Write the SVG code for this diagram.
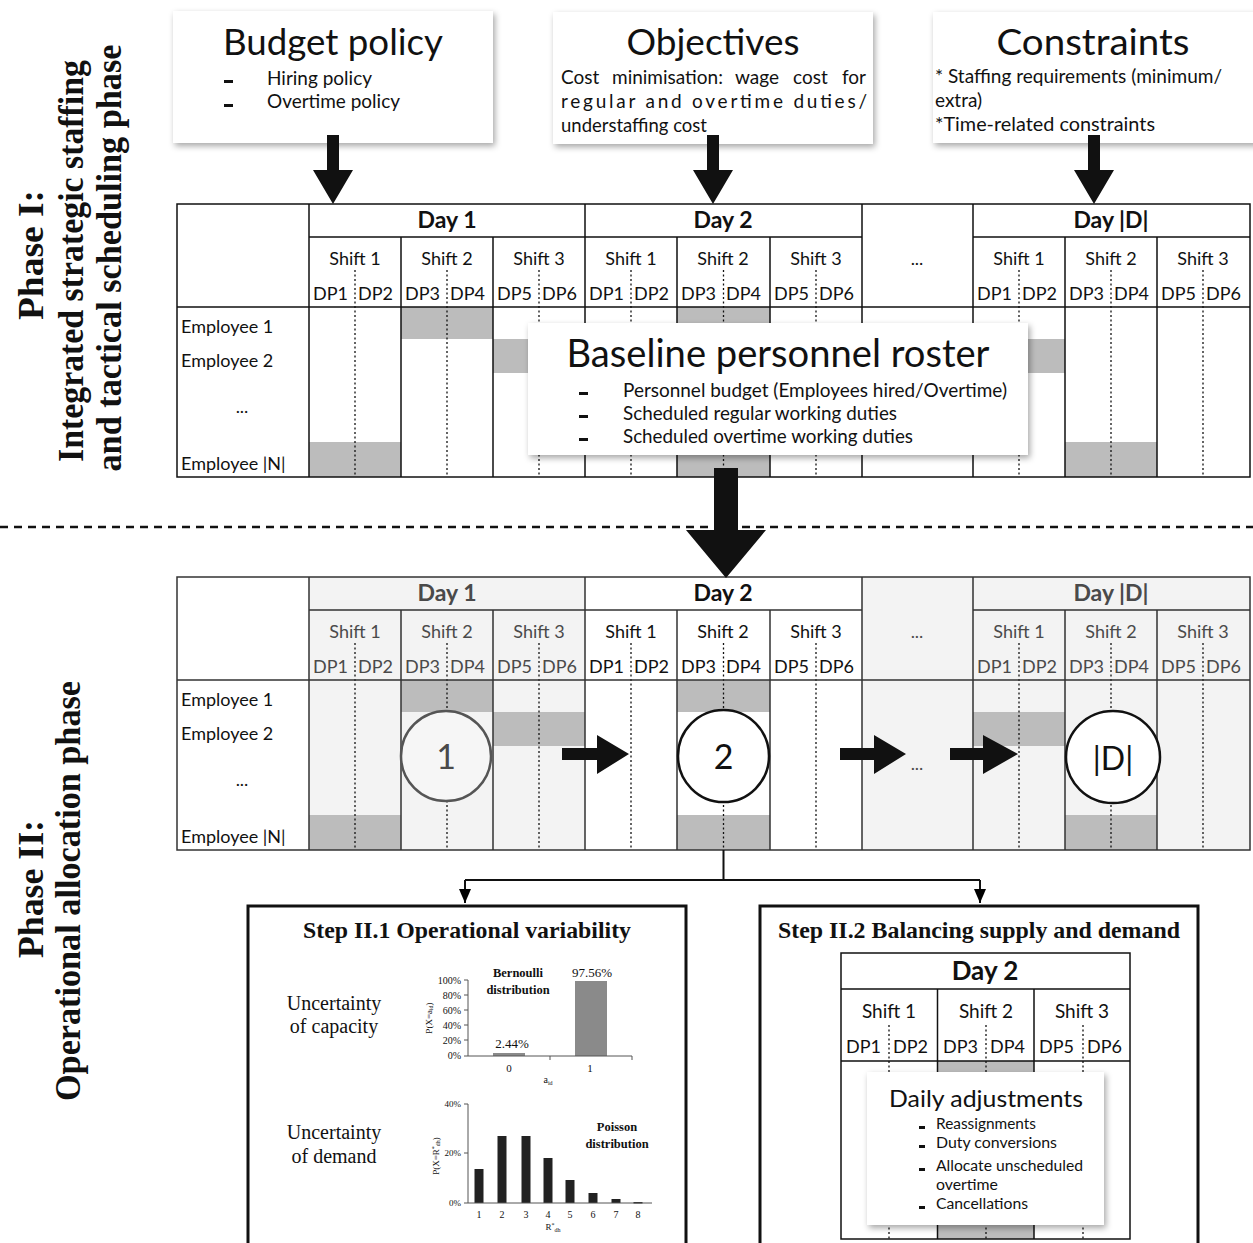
<svg xmlns="http://www.w3.org/2000/svg" width="1253" height="1243" viewBox="0 0 1253 1243">
<style>
.s{font-family:Lato,'Open Sans','Liberation Sans',sans-serif;fill:#111}
.ser{font-family:'Liberation Serif','Times New Roman',serif;fill:#111}
.b{font-weight:bold}
.m{text-anchor:middle}
.e{text-anchor:end}
.ln{stroke:#111;stroke-width:1.5;fill:none}
.ln2{stroke:#333;stroke-width:1.5;fill:none}
.dot{stroke:#111;stroke-width:1.3;stroke-dasharray:2 2.5;fill:none}
.shd{fill:#bcbcbc}
.lt{fill:#f3f3f3}
.gr{fill:#4a4a4a}
.card{fill:#fff}
.ax{stroke:#555;stroke-width:1;fill:none}
</style>
<defs>
<filter id="ds" x="-5%" y="-10%" width="115%" height="130%">
<feDropShadow dx="2" dy="3" stdDeviation="3" flood-color="#000" flood-opacity="0.35"/>
</filter>
<marker id="ah" markerUnits="userSpaceOnUse" markerWidth="14" markerHeight="12" viewBox="0 0 14 12" refX="14" refY="6" orient="auto">
<path d="M0,0 L14,6 L0,12 Z" fill="#000"/>
</marker>
</defs>
<rect width="1253" height="1243" fill="#fff"/>

<!-- Phase labels -->
<g id="phase-labels" class="ser b">
<text transform="translate(43,255) rotate(-90)" class="ser b m" font-size="35" textLength="130" lengthAdjust="spacingAndGlyphs">Phase I:</text>
<text transform="translate(83,261) rotate(-90)" class="ser b m" font-size="35" textLength="402" lengthAdjust="spacingAndGlyphs">Integrated strategic staffing</text>
<text transform="translate(121,258) rotate(-90)" class="ser b m" font-size="35" textLength="427" lengthAdjust="spacingAndGlyphs">and tactical scheduling phase</text>
<text transform="translate(43,889) rotate(-90)" class="ser b m" font-size="35" textLength="138" lengthAdjust="spacingAndGlyphs">Phase II:</text>
<text transform="translate(80,891) rotate(-90)" class="ser b m" font-size="35" textLength="420" lengthAdjust="spacingAndGlyphs">Operational allocation phase</text>
</g>

<!-- separator -->
<line x1="0" y1="527" x2="1253" y2="527" stroke="#111" stroke-width="2.5" stroke-dasharray="8 6"/>

<!-- Top boxes -->
<g id="budget-policy">
<rect x="173" y="11" width="320" height="132" class="card" filter="url(#ds)"/>
<text x="333" y="55" class="s m" font-size="37" textLength="220" lengthAdjust="spacingAndGlyphs">Budget policy</text>
<rect x="224" y="80" width="9" height="3" fill="#111"/>
<rect x="224" y="104" width="9" height="3" fill="#111"/>
<text x="267" y="85" class="s" font-size="19" textLength="105" lengthAdjust="spacingAndGlyphs">Hiring policy</text>
<text x="267" y="108" class="s" font-size="19" textLength="133" lengthAdjust="spacingAndGlyphs">Overtime policy</text>
</g>
<g id="objectives">
<rect x="553" y="12" width="320" height="132" class="card" filter="url(#ds)"/>
<text x="713" y="55" class="s m" font-size="37" textLength="173" lengthAdjust="spacingAndGlyphs">Objectives</text>
<text y="84" class="s" font-size="19"><tspan x="561">Cost</tspan> <tspan x="612">minimisation:</tspan> <tspan x="735">wage</tspan> <tspan x="793">cost</tspan> <tspan x="842">for</tspan></text>
<text x="561" y="108" class="s" font-size="19" textLength="306" lengthAdjust="spacing">regular and overtime duties/</text>
<text x="561" y="132" class="s" font-size="19" textLength="146" lengthAdjust="spacingAndGlyphs">understaffing cost</text>
</g>
<g id="constraints">
<rect x="933" y="12" width="325" height="131" class="card" filter="url(#ds)"/>
<text x="1093" y="55" class="s m" font-size="37" textLength="193" lengthAdjust="spacingAndGlyphs">Constraints</text>
<text x="935" y="83" class="s" font-size="19" textLength="287" lengthAdjust="spacingAndGlyphs">* Staffing requirements (minimum/</text>
<text x="935" y="107" class="s" font-size="19">extra)</text>
<text x="935" y="131" class="s" font-size="19" textLength="220" lengthAdjust="spacingAndGlyphs">*Time-related constraints</text>
</g>

<!-- Phase I roster grid -->
<g id="phase1-roster">
<rect x="177" y="204" width="1073" height="273" fill="#fff"/>
<rect x="401" y="307" width="92" height="32" class="shd"/>
<rect x="677" y="307" width="93" height="32" class="shd"/>
<rect x="493" y="339" width="92" height="34" class="shd"/>
<rect x="973" y="339" width="92" height="34" class="shd"/>
<rect x="309" y="442" width="92" height="35" class="shd"/>
<rect x="677" y="442" width="93" height="35" class="shd"/>
<rect x="1065" y="442" width="92" height="35" class="shd"/>
<path class="dot" d="M355,270V477M447,270V477M539,270V477M631,270V477M723.5,270V477M816,270V477M1019,270V477M1111,270V477M1203,270V477"/>
<path class="ln" d="M309,204V477M585,204V477M862,204V477M973,204V477M401,237V477M493,237V477M677,237V477M770,237V477M1065,237V477M1157,237V477M309,237H862M973,237H1250M177,307H1250"/>
<rect x="177" y="204" width="1073" height="273" class="ln"/>
<g class="s b m" font-size="23">
<text x="447" y="228">Day 1</text><text x="723" y="228">Day 2</text><text x="1111" y="228">Day |D|</text>
</g>
<g class="s m" font-size="18">
<text x="355" y="265">Shift 1</text><text x="447" y="265">Shift 2</text><text x="539" y="265">Shift 3</text>
<text x="631" y="265">Shift 1</text><text x="723" y="265">Shift 2</text><text x="816" y="265">Shift 3</text>
<text x="917" y="265">...</text>
<text x="1019" y="265">Shift 1</text><text x="1111" y="265">Shift 2</text><text x="1203" y="265">Shift 3</text>
</g>
<g class="s" font-size="18">
<text x="313" y="300">DP1</text><text x="358" y="300">DP2</text><text x="405" y="300">DP3</text><text x="450" y="300">DP4</text><text x="497" y="300">DP5</text><text x="542" y="300">DP6</text>
<text x="589" y="300">DP1</text><text x="634" y="300">DP2</text><text x="681" y="300">DP3</text><text x="726" y="300">DP4</text><text x="774" y="300">DP5</text><text x="819" y="300">DP6</text>
<text x="977" y="300">DP1</text><text x="1022" y="300">DP2</text><text x="1069" y="300">DP3</text><text x="1114" y="300">DP4</text><text x="1161" y="300">DP5</text><text x="1206" y="300">DP6</text>
<text x="181" y="333">Employee 1</text><text x="181" y="367">Employee 2</text><text x="242" y="413" class="s m">...</text><text x="181" y="470">Employee |N|</text>
</g>
</g>

<!-- Baseline roster card -->
<g id="baseline-roster">
<rect x="528" y="323" width="500" height="132" class="card" filter="url(#ds)"/>
<text x="778" y="367" class="s m" font-size="38" textLength="423" lengthAdjust="spacingAndGlyphs">Baseline personnel roster</text>
<rect x="579" y="392" width="9" height="3" fill="#111"/>
<rect x="579" y="415" width="9" height="3" fill="#111"/>
<rect x="579" y="438" width="9" height="3" fill="#111"/>
<text x="623" y="397" class="s" font-size="19" textLength="384" lengthAdjust="spacingAndGlyphs">Personnel budget (Employees hired/Overtime)</text>
<text x="623" y="420" class="s" font-size="19" textLength="274" lengthAdjust="spacingAndGlyphs">Scheduled regular working duties</text>
<text x="623" y="443" class="s" font-size="19" textLength="290" lengthAdjust="spacingAndGlyphs">Scheduled overtime working duties</text>
</g>

<!-- Phase II roster grid -->
<g id="phase2-roster">
<rect x="177" y="577" width="1073" height="273" fill="#fff"/>
<rect x="309" y="577" width="276" height="273" class="lt"/>
<rect x="862" y="577" width="388" height="273" class="lt"/>
<rect x="401" y="680" width="92" height="32" class="shd"/>
<rect x="677" y="680" width="93" height="32" class="shd"/>
<rect x="493" y="712" width="92" height="34" class="shd"/>
<rect x="973" y="712" width="92" height="34" class="shd"/>
<rect x="309" y="815" width="92" height="35" class="shd"/>
<rect x="677" y="815" width="93" height="35" class="shd"/>
<rect x="1065" y="815" width="92" height="35" class="shd"/>
<path class="dot" d="M355,643V850M447,643V850M539,643V850M631,643V850M723.5,643V850M816,643V850M1019,643V850M1111,643V850M1203,643V850"/>
<path class="ln2" d="M309,577V850M585,577V850M862,577V850M973,577V850M401,610V850M493,610V850M677,610V850M770,610V850M1065,610V850M1157,610V850M309,610H862M973,610H1250M177,680H1250"/>
<rect x="177" y="577" width="1073" height="273" class="ln2"/>
<g class="s b m" font-size="23">
<text x="447" y="601" class="gr">Day 1</text><text x="723" y="601">Day 2</text><text x="1111" y="601" class="gr">Day |D|</text>
</g>
<g class="s m" font-size="18">
<text x="355" y="638" class="gr">Shift 1</text><text x="447" y="638" class="gr">Shift 2</text><text x="539" y="638" class="gr">Shift 3</text>
<text x="631" y="638">Shift 1</text><text x="723" y="638">Shift 2</text><text x="816" y="638">Shift 3</text>
<text x="917" y="638" class="gr">...</text>
<text x="1019" y="638" class="gr">Shift 1</text><text x="1111" y="638" class="gr">Shift 2</text><text x="1203" y="638" class="gr">Shift 3</text>
</g>
<g class="s" font-size="18">
<g class="gr"><text x="313" y="673">DP1</text><text x="358" y="673">DP2</text><text x="405" y="673">DP3</text><text x="450" y="673">DP4</text><text x="497" y="673">DP5</text><text x="542" y="673">DP6</text></g>
<text x="589" y="673">DP1</text><text x="634" y="673">DP2</text><text x="681" y="673">DP3</text><text x="726" y="673">DP4</text><text x="774" y="673">DP5</text><text x="819" y="673">DP6</text>
<g class="gr"><text x="977" y="673">DP1</text><text x="1022" y="673">DP2</text><text x="1069" y="673">DP3</text><text x="1114" y="673">DP4</text><text x="1161" y="673">DP5</text><text x="1206" y="673">DP6</text></g>
<text x="181" y="706">Employee 1</text><text x="181" y="740">Employee 2</text><text x="242" y="786" class="s m">...</text><text x="181" y="843">Employee |N|</text>
<text x="917" y="770" class="s m gr">...</text>
</g>
</g>

<g id="day1-circle">
<circle cx="446" cy="756" r="45" fill="#f6f6f6" stroke="#555" stroke-width="2.5"/>
<text x="446" y="769" class="s m gr" font-size="34">1</text>
</g>
<g id="day2-circle">
<ellipse cx="723.5" cy="756" rx="45.5" ry="46" fill="#fff" stroke="#111" stroke-width="2.5"/>
<text x="723.5" y="769" class="s m" font-size="34">2</text>
</g>
<g id="dayD-circle">
<ellipse cx="1113" cy="757" rx="47" ry="46" fill="#fff" stroke="#111" stroke-width="2.5"/>
<text x="1113" y="770" class="s m" font-size="32">|D|</text>
</g>

<!-- Connectors -->
<g id="connectors" fill="#111">
<path d="M327,135H339V170H353L333,204L313,170H327Z"/>
<path d="M707,135H719V170H733L713,204L693,170H707Z"/>
<path d="M1088,135H1100V170H1114L1094,204L1074,170H1088Z"/>
<path d="M714,468H738V530H766L726,578L686,530H714Z"/>
<path d="M562,748H597V735L629,754L597,774V760H562Z"/>
<path d="M840,748H874V735L906,754L874,774V760H840Z"/>
<path d="M950,748H983V735L1018,754L983,774V760H950Z"/>
<path d="M723.5,850V880M465,880H980" fill="none" stroke="#111" stroke-width="2"/>
<line x1="465" y1="880" x2="465" y2="903" stroke="#111" stroke-width="2" marker-end="url(#ah)"/>
<line x1="980" y1="880" x2="980" y2="903" stroke="#111" stroke-width="2" marker-end="url(#ah)"/>
</g>

<!-- Step II.1 -->
<g id="step-II1">
<rect x="248" y="906" width="438" height="350" fill="#fff" stroke="#111" stroke-width="3"/>
<text x="467" y="938" class="ser b m" font-size="23" textLength="328" lengthAdjust="spacingAndGlyphs">Step II.1 Operational variability</text>
<g class="ser m" font-size="20">
<text x="334" y="1010">Uncertainty</text><text x="334" y="1033">of capacity</text>
<text x="334" y="1139">Uncertainty</text><text x="334" y="1163">of demand</text>
</g>
<g id="bernoulli-chart">
<rect x="493" y="1053" width="32" height="3" fill="#8a8a8a"/>
<rect x="575" y="981" width="32" height="75" fill="#8a8a8a"/>
<path class="ax" d="M468,980V1056H632M464,980H468M464,995H468M464,1010H468M464,1025H468M464,1040H468M464,1056H468M550,1056V1060M632,1056V1060"/>
<g class="ser e" font-size="10">
<text x="461" y="984">100%</text><text x="461" y="999">80%</text><text x="461" y="1014">60%</text><text x="461" y="1029">40%</text><text x="461" y="1044">20%</text><text x="461" y="1059">0%</text>
</g>
<text x="512" y="1048" class="ser m" font-size="13">2.44%</text>
<text x="592" y="977" class="ser m" font-size="13">97.56%</text>
<text x="518" y="977" class="ser b m" font-size="12.5">Bernoulli</text>
<text x="518" y="994" class="ser b m" font-size="12.5">distribution</text>
<text x="509" y="1072" class="ser m" font-size="11">0</text>
<text x="590" y="1072" class="ser m" font-size="11">1</text>
<text x="548" y="1083" class="ser m" font-size="10">a<tspan font-size="6" dy="2">id</tspan></text>
<text transform="translate(432,1018) rotate(-90)" class="ser m" font-size="9">P(X=a<tspan font-size="6" dy="1">id</tspan><tspan dy="-1">)</tspan></text>
</g>
<g id="poisson-chart" fill="#222">
<rect x="474.5" y="1169" width="9" height="34"/>
<rect x="497.5" y="1136" width="9" height="67"/>
<rect x="521.5" y="1136" width="9" height="67"/>
<rect x="543.5" y="1158" width="9" height="45"/>
<rect x="565.5" y="1180" width="9" height="23"/>
<rect x="588.5" y="1193" width="9" height="10"/>
<rect x="611.5" y="1199" width="9" height="4"/>
<rect x="633.5" y="1202" width="9" height="1.5"/>
<path class="ax" d="M468,1104V1203H652M464,1104H468M464,1153H468M464,1203H468"/>
<g class="ser e" font-size="9">
<text x="461" y="1107">40%</text><text x="461" y="1156">20%</text><text x="461" y="1206">0%</text>
</g>
<g class="ser m" font-size="10">
<text x="479" y="1218">1</text><text x="502" y="1218">2</text><text x="526" y="1218">3</text><text x="548" y="1218">4</text><text x="570" y="1218">5</text><text x="593" y="1218">6</text><text x="616" y="1218">7</text><text x="638" y="1218">8</text>
</g>
<text x="553" y="1230" class="ser m" font-size="9">R<tspan font-size="6" dy="-3">*</tspan><tspan font-size="6" dy="5">dh</tspan></text>
<text x="617" y="1131" class="ser b m" font-size="12.5">Poisson</text>
<text x="617" y="1148" class="ser b m" font-size="12.5">distribution</text>
<text transform="translate(439,1156) rotate(-90)" class="ser m" font-size="9">P(X=R<tspan font-size="6" dy="-3">*</tspan><tspan font-size="6" dy="4">dh</tspan><tspan dy="-1">)</tspan></text>
</g>
</g>

<!-- Step II.2 -->
<g id="step-II2">
<rect x="760" y="906" width="438" height="350" fill="#fff" stroke="#111" stroke-width="3"/>
<text x="979" y="938" class="ser b m" font-size="23" textLength="402" lengthAdjust="spacingAndGlyphs">Step II.2 Balancing supply and demand</text>
<rect x="938" y="1061" width="96" height="12" class="shd"/>
<rect x="938" y="1225" width="96" height="14" class="shd"/>
<path class="dot" d="M889,1025V1239M986,1025V1239M1083,1025V1239"/>
<path class="ln" d="M841,989H1130M841,1061H1130M937.5,989V1239M1034,989V1239"/>
<rect x="841" y="953" width="289" height="286" class="ln"/>
<text x="985" y="980" class="s b m" font-size="26">Day 2</text>
<g class="s m" font-size="19">
<text x="889" y="1018">Shift 1</text><text x="986" y="1018">Shift 2</text><text x="1082" y="1018">Shift 3</text>
</g>
<g class="s" font-size="18">
<text x="846" y="1053">DP1</text><text x="893" y="1053">DP2</text><text x="943" y="1053">DP3</text><text x="990" y="1053">DP4</text><text x="1039" y="1053">DP5</text><text x="1087" y="1053">DP6</text>
</g>
</g>
<g id="daily-adjustments">
<rect x="867" y="1072" width="237" height="153" class="card" filter="url(#ds)"/>
<text x="986" y="1107" class="s m" font-size="24" textLength="194" lengthAdjust="spacingAndGlyphs">Daily adjustments</text>
<rect x="919" y="1126" width="6" height="3" fill="#111"/>
<rect x="919" y="1145" width="6" height="3" fill="#111"/>
<rect x="919" y="1168" width="6" height="3" fill="#111"/>
<rect x="919" y="1206" width="6" height="3" fill="#111"/>
<text x="936" y="1129" class="s" font-size="15.5" textLength="100" lengthAdjust="spacingAndGlyphs">Reassignments</text>
<text x="936" y="1148" class="s" font-size="15.5" textLength="121" lengthAdjust="spacingAndGlyphs">Duty conversions</text>
<text x="936" y="1171" class="s" font-size="15.5" textLength="147" lengthAdjust="spacingAndGlyphs">Allocate unscheduled</text>
<text x="936" y="1190" class="s" font-size="15.5" textLength="62" lengthAdjust="spacingAndGlyphs">overtime</text>
<text x="936" y="1209" class="s" font-size="15.5" textLength="92" lengthAdjust="spacingAndGlyphs">Cancellations</text>
</g>
</svg>
